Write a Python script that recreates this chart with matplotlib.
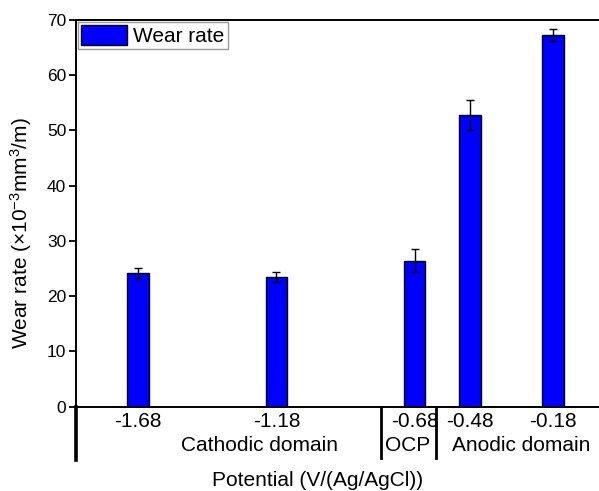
import matplotlib
matplotlib.use('Agg')
import matplotlib.pyplot as plt
import matplotlib.transforms as mtransforms
from matplotlib.patches import Patch

plt.rcParams['font.family'] = ['Liberation Sans', 'DejaVu Sans']
plt.rcParams['mathtext.default'] = 'regular'

# data
potentials = [-1.68, -1.18, -0.68, -0.48, -0.18]
tick_labels = ['-1.68', '-1.18', '-0.68', '-0.48', '-0.18']
wear_rate = [24.15, 23.5, 26.4, 52.8, 67.3]
wear_err = [0.9, 0.9, 2.1, 2.7, 1.15]
groups = ['Cathodic domain', 'OCP', 'Anodic domain']

W, H = 599, 491
fig = plt.figure(figsize=(W / 100, H / 100), dpi=100)
ax = fig.add_axes([76 / W, 1 - 406.7 / H, 1 - 76 / W, (406.7 - 20) / H])

ax.bar(potentials, wear_rate, width=0.078, color='#0000ff', edgecolor='black',
       linewidth=1, yerr=wear_err, capsize=3,
       error_kw=dict(elinewidth=1, capthick=1, ecolor='black'))

ax.set_xlim(-1.905, -0.013)
ax.set_ylim(0, 70)
ax.set_yticks(range(0, 71, 10))
ax.tick_params(axis='y', direction='out', length=5, width=1.3, labelsize=12.5, pad=2)
ax.set_xticks(potentials)
ax.set_xticklabels(tick_labels)
ax.tick_params(axis='x', length=0, labelsize=15, pad=4)
ax.spines['right'].set_visible(False)
for s in ['left', 'top', 'bottom']:
    ax.spines[s].set_linewidth(1.4)

# group separators below the axis
trans = mtransforms.blended_transform_factory(ax.transData, ax.transAxes)
ax.plot([-1.905, -1.905], [0, -0.138], color='black', lw=2.6, transform=trans, clip_on=False)
for xd in [-0.803, -0.602]:
    ax.plot([xd, xd], [0, -0.133], color='black', lw=2, transform=trans, clip_on=False)
for label, xc in zip(groups, [-1.24, -0.705, -0.296]):
    ax.text(xc, -0.1, label, transform=trans, ha='center', va='center', fontsize=15)

fig.text(318 / W, 1 - 480 / H, 'Potential (V/(Ag/AgCl))', ha='center', va='center', fontsize=15)
fig.text(21 / W, 1 - 233 / H, 'Wear rate (×10$^{-3}$mm$^3$/m)', rotation=90,
         ha='center', va='center', fontsize=15)

handle = Patch(facecolor='#0000ff', edgecolor='black', linewidth=1)
ax.legend([handle], ['Wear rate'], loc='upper left', fontsize=15, fancybox=False,
          edgecolor='#999999', framealpha=1, borderaxespad=0.1, borderpad=0.15,
          handlelength=2.2, handleheight=1.1, handletextpad=0.3)

fig.savefig('out.png', dpi=100)
